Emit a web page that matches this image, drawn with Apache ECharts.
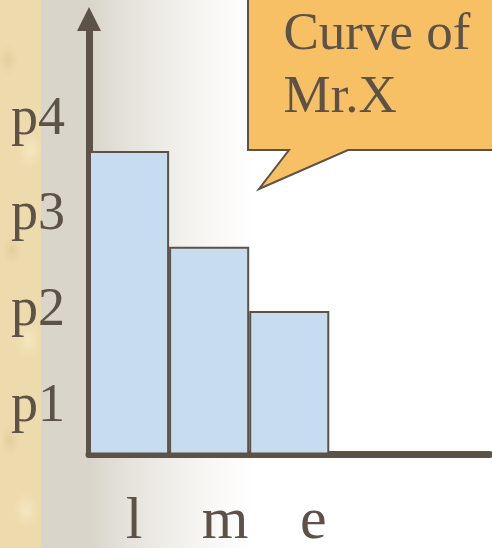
<!DOCTYPE html>
<html>
<head>
<meta charset="utf-8">
<script src="https://cdn.jsdelivr.net/npm/echarts@6/dist/echarts.min.js"></script>
<style>
  html, body { margin: 0; padding: 0; }
  #wrap { position: relative; width: 492px; height: 548px; overflow: hidden;
    background: linear-gradient(to right, #D9D5CA 0px, #D9D5CA 90px, #E6E3DC 130px, #F6F5F2 200px, #FFFFFF 255px); }
  #parch { position: absolute; left: 0; top: 0; width: 41px; height: 548px;
    background:
      radial-gradient(ellipse 10px 16px at 8px 60px, rgba(215,190,140,0.45), rgba(215,190,140,0) 100%),
      radial-gradient(ellipse 12px 18px at 30px 150px, rgba(250,238,205,0.6), rgba(250,238,205,0) 100%),
      radial-gradient(ellipse 10px 16px at 12px 250px, rgba(215,190,140,0.45), rgba(215,190,140,0) 100%),
      radial-gradient(ellipse 12px 18px at 28px 340px, rgba(250,238,205,0.6), rgba(250,238,205,0) 100%),
      radial-gradient(ellipse 10px 16px at 10px 440px, rgba(215,190,140,0.45), rgba(215,190,140,0) 100%),
      radial-gradient(ellipse 12px 18px at 26px 510px, rgba(250,238,205,0.6), rgba(250,238,205,0) 100%),
      #EEDBAD; }
  #chart { position: absolute; left: 0; top: 0; width: 492px; height: 548px; }
</style>
</head>
<body>
<div id="wrap">
  <div id="parch"></div>
  <div id="chart"></div>
</div>
<script>
// ---- data ----
const categories = ['l', 'm', 'e', '', ''];
const values = [3.17, 2.17, 1.50];
const yTickValues = [0.5, 1.5, 2.5, 3.5];
const yTickLabels = ['p1', 'p2', 'p3', 'p4'];
const calloutLines = ['Curve of', 'Mr.X'];

// ---- styles ----
const ink = '#5C5247';
const serif = '"Liberation Serif", "Times New Roman", serif';
const xLabelShift = [10, 32, 48, 0, 0];
const rich = {};
xLabelShift.forEach((s, i) => {
  rich['c' + i] = { fontSize: 60, fontFamily: serif, color: ink, padding: [0, 0, 0, s] };
});

const chart = echarts.init(document.getElementById('chart'), null, { renderer: 'canvas' });
chart.setOption({
  backgroundColor: 'transparent',
  animation: false,
  grid: { left: 89, right: 2.5, top: 19, bottom: 93.5, containLabel: false, outerBoundsMode: 'none' },
  xAxis: {
    type: 'category', data: categories, boundaryGap: true,
    axisLine: { show: true, lineStyle: { color: ink, width: 7 } },
    axisTick: { show: false },
    axisLabel: { interval: 0, margin: 38, fontSize: 60, fontFamily: serif, color: ink,
      formatter: (v, i) => v === '' ? '' : '{c' + i + '|' + v + '}', rich: rich },
    splitLine: { show: false }
  },
  yAxis: {
    type: 'value', min: 0, max: 4.55, interval: 0.5,
    axisLine: { show: true, lineStyle: { color: ink, width: 7 }, symbol: ['none', 'triangle'], symbolSize: [24, 24] },
    axisTick: { show: false }, splitLine: { show: false },
    axisLabel: { margin: 24, fontSize: 54, fontFamily: serif, color: ink, padding: [0, 0, 10, 0],
      formatter: (v) => { const i = yTickValues.findIndex(t => Math.abs(t - v) < 1e-6); return i >= 0 ? yTickLabels[i] : ''; } }
  },
  series: [{ type: 'bar', data: values, barWidth: '100%', barGap: '0%', barCategoryGap: '0%',
    itemStyle: { color: '#C8DCF0', borderColor: ink, borderWidth: 2 }, z: 1 }],
  graphic: [
    {
      type: 'polygon', z: 100,
      shape: { points: [[248, -5], [497, -5], [497, 150], [348, 150], [259, 189], [289, 150], [248, 150]] },
      style: { fill: '#F8C064', stroke: ink, lineWidth: 2 }
    },
    { type: 'text', z: 101, x: 283.5, y: 35,
      style: { text: calloutLines[0], font: '53px ' + serif, fill: ink, verticalAlign: 'middle', align: 'left' } },
    { type: 'text', z: 101, x: 283.5, y: 98.5,
      style: { text: calloutLines[1], font: '53px ' + serif, fill: ink, verticalAlign: 'middle', align: 'left' } }
  ]
});
</script>
</body>
</html>
